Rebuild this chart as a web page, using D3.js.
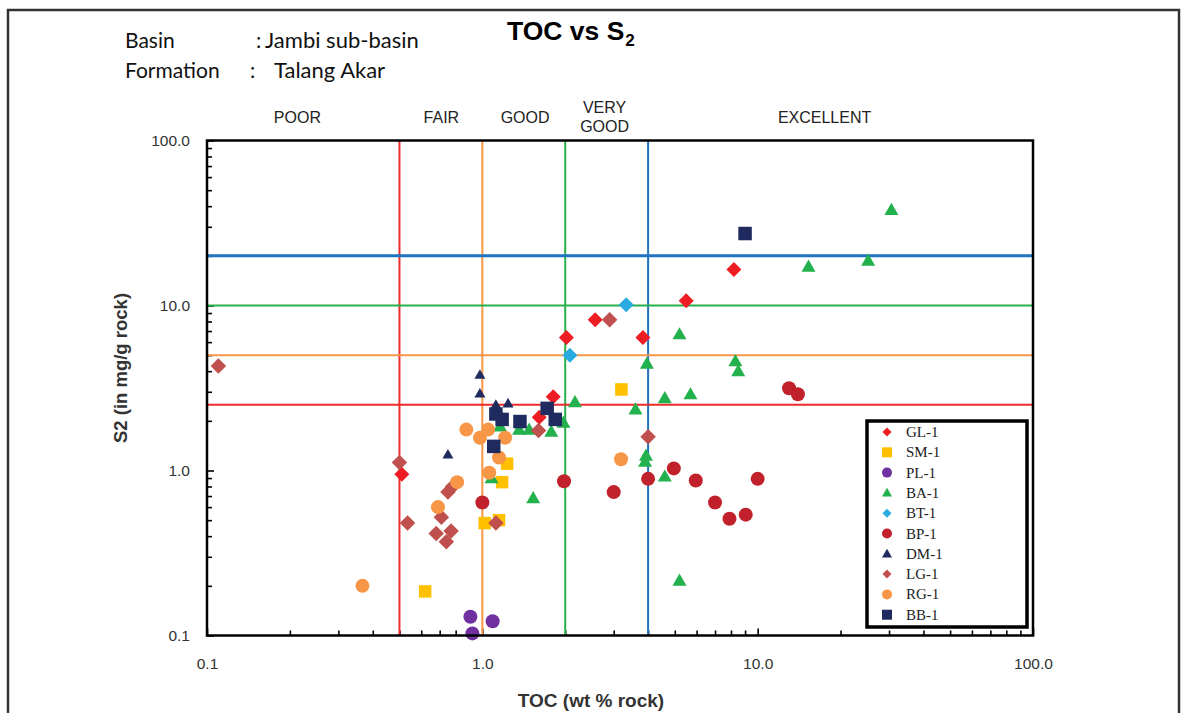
<!DOCTYPE html>
<html><head><meta charset="utf-8">
<script src="https://cdn.jsdelivr.net/npm/d3@7"></script>
<style>body{margin:0;background:#fff} svg{display:block}</style>
</head><body>
<svg id="c" width="1186" height="713"></svg>
<script>
// ---------------- DATA ----------------
const seriesNames = ["GL-1","SM-1","PL-1","BA-1","BT-1","BP-1","DM-1","LG-1","RG-1","BB-1"];

const glToc = [0.51, 2.02, 2.57, 3.83, 5.5, 8.2, 1.81, 1.61];
const glS2  = [0.95, 6.4, 8.2, 6.4, 10.7, 16.5, 2.8, 2.1];

const smToc = [0.62, 1.02, 1.15, 1.18, 1.23, 3.2];
const smS2  = [0.185, 0.48, 0.50, 0.85, 1.10, 3.1];

const plToc = [0.905, 0.92, 1.09];
const plS2  = [0.13, 0.103, 0.122];

const baToc = [30.6, 15.3, 25.2, 5.2, 3.96, 8.3, 8.5, 5.7, 4.6, 3.6, 2.17, 1.97, 1.78, 1.48, 1.36, 1.53, 1.08, 3.93, 3.9, 4.6, 5.2, 1.16];
const baS2  = [38, 17.2, 18.7, 6.7, 4.45, 4.6, 4.0, 2.9, 2.75, 2.35, 2.6, 1.95, 1.72, 1.77, 1.77, 0.68, 0.9, 1.23, 1.13, 0.92, 0.215, 1.85];

const btToc = [3.33, 2.08];
const btS2  = [10.1, 5.0];

const bpToc = [13.0, 14.0, 4.96, 5.96, 7.0, 7.9, 9.05, 10.0, 1.98, 3.0, 4.0, 1.0];
const bpS2  = [3.15, 2.9, 1.03, 0.87, 0.64, 0.51, 0.54, 0.89, 0.86, 0.74, 0.89, 0.64];

const dmToc = [0.98, 0.98, 1.12, 1.24, 0.75, 1.16];
const dmS2  = [3.8, 2.93, 2.5, 2.55, 1.25, 2.2];

const lgToc = [0.11, 0.50, 0.535, 0.71, 0.68, 0.77, 0.74, 0.75, 0.78, 1.12, 1.6, 2.9, 4.0];
const lgS2  = [4.3, 1.12, 0.48, 0.52, 0.415, 0.43, 0.37, 0.74, 0.80, 0.48, 1.75, 8.2, 1.6];

const rgToc = [0.367, 0.69, 0.81, 0.875, 0.98, 1.05, 1.21, 1.15, 1.06, 3.19];
const rgS2  = [0.20, 0.60, 0.85, 1.77, 1.58, 1.77, 1.58, 1.2, 0.97, 1.17];

const bbToc = [9.0, 1.12, 1.18, 1.37, 1.72, 1.84, 1.10];
const bbS2  = [27.3, 2.2, 2.04, 1.98, 2.38, 2.04, 1.40];

const tocLimits = [0.5, 1, 2, 4];
const s2Limits  = [2.5, 5, 10, 20];
const classLabels = ["POOR", "FAIR", "GOOD", "VERY GOOD", "EXCELLENT"];
const classLabelToc = [0.213, 0.71, 1.43, 2.78, 17.5];

const majorTicks = [0.1, 1, 10, 100];
const xTickLabels = ["0.1", "1.0", "10.0", "100.0"];
const yTickLabels = ["0.1", "1.0", "10.0", "100.0"];

// ---------------- STYLE ----------------
const limitColors = ["#ee2a2a", "#f79646", "#27b04a", "#1f73c0"];
const styles = {
  "GL-1": {shape:"diamond", color:"#ee1d23", size:15},
  "SM-1": {shape:"square",  color:"#ffc000", size:12.5},
  "PL-1": {shape:"circle",  color:"#7030a0", size:14},
  "BA-1": {shape:"triangle",color:"#22b14c", size:14},
  "BT-1": {shape:"diamond", color:"#29abe2", size:15},
  "BP-1": {shape:"circle",  color:"#c1212b", size:14},
  "DM-1": {shape:"triangle",color:"#1f2b5e", size:11},
  "LG-1": {shape:"diamond", color:"#c0504d", size:15.5},
  "RG-1": {shape:"circle",  color:"#f79646", size:14},
  "BB-1": {shape:"square",  color:"#1f2b5e", size:13.5}
};
const seriesData = {
  "GL-1":[glToc,glS2], "SM-1":[smToc,smS2], "PL-1":[plToc,plS2], "BA-1":[baToc,baS2],
  "BT-1":[btToc,btS2], "BP-1":[bpToc,bpS2], "DM-1":[dmToc,dmS2], "LG-1":[lgToc,lgS2],
  "RG-1":[rgToc,rgS2], "BB-1":[bbToc,bbS2]
};

function shapePath(shape, s){
  if (shape === "circle") return d3.symbol(d3.symbolCircle, Math.PI*(s/2)*(s/2))();
  if (shape === "square") return d3.symbol(d3.symbolSquare, s*s)();
  if (shape === "diamond") { const h=s/2; return `M0,${-h}L${h},0L0,${h}L${-h},0Z`; }
  if (shape === "triangle") { const h = s*0.87; return `M0,${-h*0.58}L${s/2},${h*0.42}L${-s/2},${h*0.42}Z`; }
}

// ---------------- CHART ----------------
const svg = d3.select("#c");
const L = 207, R = 1033, T = 140.5, B = 635.5;
const x = d3.scaleLog().domain([0.1, 100]).range([L, R]);
const y = d3.scaleLog().domain([0.1, 100]).range([B, T]);
const FONT = "'Liberation Sans', Arial, sans-serif";

// outer frame
svg.append("rect").attr("x", 8).attr("y", 10).attr("width", 1171).attr("height", 720)
  .attr("fill", "none").attr("stroke", "#333").attr("stroke-width", 2.5);

// header
const hdr = svg.append("g").attr("font-family", "Lato, 'Open Sans', sans-serif").attr("font-size", 21).attr("fill", "#111");
hdr.append("text").attr("x", 125).attr("y", 48).text("Basin");
hdr.append("text").attr("x", 256).attr("y", 48).text(":");
hdr.append("text").attr("x", 265).attr("y", 48).attr("font-size", 22).text("Jambi sub-basin");
hdr.append("text").attr("x", 125).attr("y", 78).text("Formation");
hdr.append("text").attr("x", 250).attr("y", 78).text(":");
hdr.append("text").attr("x", 274).attr("y", 78).attr("font-size", 22).text("Talang Akar");

const title = svg.append("text").attr("x", 507).attr("y", 40).attr("font-family", FONT)
  .attr("font-weight", "bold").attr("font-size", 26.5).attr("fill", "#000");
title.append("tspan").text("TOC vs S");
title.append("tspan").attr("font-size", 17).attr("dx", 1).attr("dy", 6).text("2");

// class labels
const cl = svg.append("g").attr("font-family", FONT).attr("font-size", 16).attr("fill", "#222").attr("text-anchor", "middle");
classLabels.forEach((t, i) => {
  const parts = t === "VERY GOOD" ? ["VERY", "GOOD"] : [t];
  if (parts.length === 1) cl.append("text").attr("x", x(classLabelToc[i])).attr("y", 123).text(t);
  else {
    cl.append("text").attr("x", x(classLabelToc[i])).attr("y", 113).text(parts[0]);
    cl.append("text").attr("x", x(classLabelToc[i])).attr("y", 132).text(parts[1]);
  }
});

// ticks
const tickVals = [];
[0.1, 1, 10].forEach(d => { for (let m = 1; m < 10; m++) tickVals.push(+(d*m).toPrecision(3)); });
tickVals.push(100);
const isMajor = v => majorTicks.some(m => Math.abs(m - v) < 1e-9);
const lbl = (arr) => v => { const i = majorTicks.findIndex(m => Math.abs(m - v) < 1e-9); return i >= 0 ? arr[i] : ""; };

const gx = svg.append("g").attr("transform", `translate(0,${B})`)
  .call(d3.axisBottom(x).tickValues(tickVals).tickSizeInner(-5).tickSizeOuter(0).tickPadding(22).tickFormat(lbl(xTickLabels)));
const gy = svg.append("g").attr("transform", `translate(${L},0)`)
  .call(d3.axisLeft(y).tickValues(tickVals).tickSizeInner(-5).tickSizeOuter(0).tickPadding(17).tickFormat(lbl(yTickLabels)));
[gx, gy].forEach(g => {
  g.select(".domain").remove();
  g.selectAll(".tick line").attr("stroke", "#000").attr("stroke-width", 1.6);
  g.selectAll("text").attr("font-family", FONT).attr("font-size", 15.5).attr("fill", "#333");
});
gx.selectAll(".tick").filter(d => isMajor(d)).select("line").attr("y2", -7);
gy.selectAll(".tick").filter(d => isMajor(d)).select("line").attr("x2", 7);

// limit lines
const lines = svg.append("g");
tocLimits.forEach((v, i) => lines.append("line").attr("x1", x(v)).attr("x2", x(v)).attr("y1", T).attr("y2", B)
  .attr("stroke", limitColors[i]).attr("stroke-width", 2));
s2Limits.forEach((v, i) => lines.append("line").attr("x1", L).attr("x2", R).attr("y1", y(v)).attr("y2", y(v))
  .attr("stroke", limitColors[i]).attr("stroke-width", i === 3 ? 3 : 2));

// points
const pts = svg.append("g");
seriesNames.forEach(name => {
  const [tx, ty] = seriesData[name];
  const st = styles[name];
  const d = tx.map((v, i) => [v, ty[i]]);
  pts.selectAll(null).data(d).enter().append("path")
    .attr("d", shapePath(st.shape, st.size))
    .attr("transform", p => `translate(${x(p[0])},${y(p[1])})`)
    .attr("fill", st.color);
});

// frame
svg.append("rect").attr("x", L).attr("y", T).attr("width", R - L).attr("height", B - T)
  .attr("fill", "none").attr("stroke", "#000").attr("stroke-width", 2.5);

// axis titles
svg.append("text").attr("x", 591).attr("y", 707).attr("text-anchor", "middle").attr("font-family", FONT)
  .attr("font-weight", "bold").attr("font-size", 19).attr("fill", "#333").text("TOC (wt % rock)");
svg.append("text").attr("transform", "translate(127,368) rotate(-90)").attr("text-anchor", "middle").attr("font-family", FONT)
  .attr("font-weight", "bold").attr("font-size", 18.5).attr("fill", "#333").text("S2 (in mg/g rock)");

// legend
const lg = svg.append("g");
lg.append("rect").attr("x", 867).attr("y", 421).attr("width", 160).attr("height", 206)
  .attr("fill", "#fff").attr("stroke", "#000").attr("stroke-width", 3.5);
seriesNames.forEach((name, i) => {
  const st = styles[name];
  const yy = 432 + i * 20.3;
  lg.append("path").attr("d", shapePath(st.shape, st.shape === "diamond" ? 9 : 10)).attr("transform", `translate(887,${yy})`).attr("fill", st.color);
  lg.append("text").attr("x", 906).attr("y", yy + 5).attr("font-family", "'Liberation Serif', 'Times New Roman', serif")
    .attr("font-size", 15).attr("fill", "#222").text(name);
});
</script>
</body></html>
